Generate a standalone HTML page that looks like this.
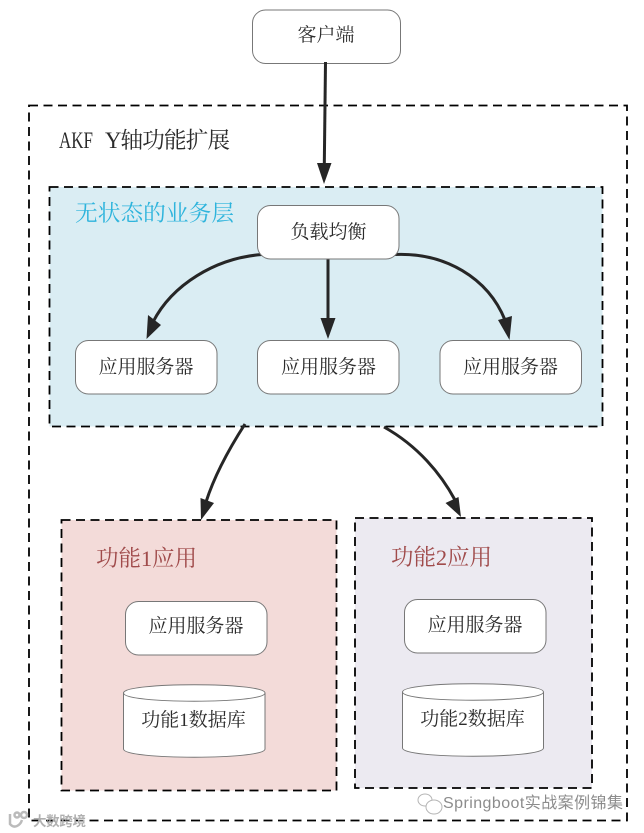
<!DOCTYPE html>
<html><head><meta charset="utf-8">
<style>
html,body{margin:0;padding:0;background:#fff;width:644px;height:833px;overflow:hidden}
svg{display:block;filter:blur(0.3px)}
text{font-family:"Liberation Serif","Noto Serif CJK SC",serif;fill:#2b2b2b}
.b{fill:#fff;stroke:#777;stroke-width:1}
.d{stroke:#000;stroke-width:1.8;stroke-dasharray:9 5.5;}
.c{fill:none;stroke:#262626;stroke-width:3}
.h{fill:#262626;stroke:none}
.t{font-size:19px;text-anchor:middle}
.g{font-size:22.7px}
.r{font-size:22.5px;fill:#a04b4b}
</style></head><body>
<svg width="644" height="833" viewBox="0 0 644 833" xmlns="http://www.w3.org/2000/svg">
<rect class="d" x="29" y="105.500" width="598" height="715" fill="#fff"/>
<rect class="d" x="49.500" y="187" width="553" height="239.500" fill="#daedf3"/>
<rect class="d" x="61.500" y="520" width="275" height="270.500" fill="#f3dbd9"/>
<rect class="d" x="355" y="518" width="237" height="270" fill="#eceaf1"/>

<rect class="b" x="252.500" y="10" width="148" height="53.500" rx="13"/>
<text class="t" x="326" y="41">客户端</text>
<text x="59" y="148" class="g" textLength="34" lengthAdjust="spacingAndGlyphs">AKF</text>
<text x="105" y="148" class="g" textLength="125">Y轴功能扩展</text>
<text x="75" y="221" class="g" style="fill:#2eb4dc" textLength="159">无状态的业务层</text>

<path class="c" d="M325.500 62L324.300 165"/>
<path class="h" d="M317 163L331.500 163L324 184Z"/>

<path class="c" d="M262 254.500C215 258 172 285 153 322"/>
<path class="h" d="M146.500 339L148 315L161 325Z"/>
<path class="c" d="M328 258L328 320"/>
<path class="h" d="M320.500 318L335.500 318L328 339Z"/>
<path class="c" d="M394 254.500C445 252 488 278 505 320"/>
<path class="h" d="M509.500 340L498 320L512 316Z"/>
<path class="c" d="M245 424C227 452 213 480 206 502"/>
<path class="h" d="M201 520L200.500 498L214 503Z"/>
<path class="c" d="M384 427C418 446 441 474 455 500"/>
<path class="h" d="M461 517L445.500 503L458.500 497Z"/>

<rect class="b" x="257.500" y="205.500" width="141.500" height="53.500" rx="13"/>
<text class="t" x="328.500" y="238">负载均衡</text>
<rect class="b" x="75.500" y="340.500" width="141.500" height="53.500" rx="13"/>
<text class="t" x="146" y="373">应用服务器</text>
<rect class="b" x="257.500" y="340.500" width="141.500" height="53.500" rx="13"/>
<text class="t" x="328.500" y="373">应用服务器</text>
<rect class="b" x="440" y="340.500" width="141.500" height="53.500" rx="13"/>
<text class="t" x="510.500" y="373">应用服务器</text>

<text x="96" y="566" class="r" textLength="101">功能1应用</text>
<text x="391" y="565" class="r" textLength="101">功能2应用</text>

<rect class="b" x="125.500" y="601.500" width="141.500" height="53.500" rx="13"/>
<text class="t" x="196" y="632">应用服务器</text>
<rect class="b" x="404.500" y="599.500" width="141.500" height="53.500" rx="13"/>
<text class="t" x="475" y="631">应用服务器</text>

<path class="b" d="M123.500 693C123.500 682 265 682 265 693L265 749C265 760 123.500 760 123.500 749Z"/>
<path class="b" style="fill:none" d="M123.500 693C123.500 704 265 704 265 693"/>
<text class="t" x="193.500" y="726">功能1数据库</text>
<path class="b" d="M402.500 692C402.500 681 543.500 681 543.500 692L543.500 748C543.500 759 402.500 759 402.500 748Z"/>
<path class="b" style="fill:none" d="M402.500 692C402.500 703 543.500 703 543.500 692"/>
<text class="t" x="472.500" y="725">功能2数据库</text>

<g fill="#fff" stroke="#b5b5b5" stroke-width="1">
<ellipse cx="425" cy="800" rx="7" ry="6"/>
<ellipse cx="434" cy="807" rx="8" ry="7"/>
</g>
<text x="443" y="808" style="font-family:'Liberation Sans','Noto Sans CJK SC',sans-serif;font-size:16px;fill:#8c8c8c" textLength="180">Springboot实战案例锦集</text>
<g fill="none" stroke="#bbb" stroke-width="2.5">
<path d="M10 814L10 824C14 829 20 826 22 820"/>
<circle cx="24" cy="815" r="3"/>
<circle cx="17" cy="815" r="2.500"/>
</g>
<text x="33" y="826" style="font-family:'Liberation Sans','Noto Sans CJK SC',sans-serif;font-size:13.500px;font-weight:bold;fill:#b0b0b0" textLength="53">大数跨境</text>
</svg>
</body></html>
